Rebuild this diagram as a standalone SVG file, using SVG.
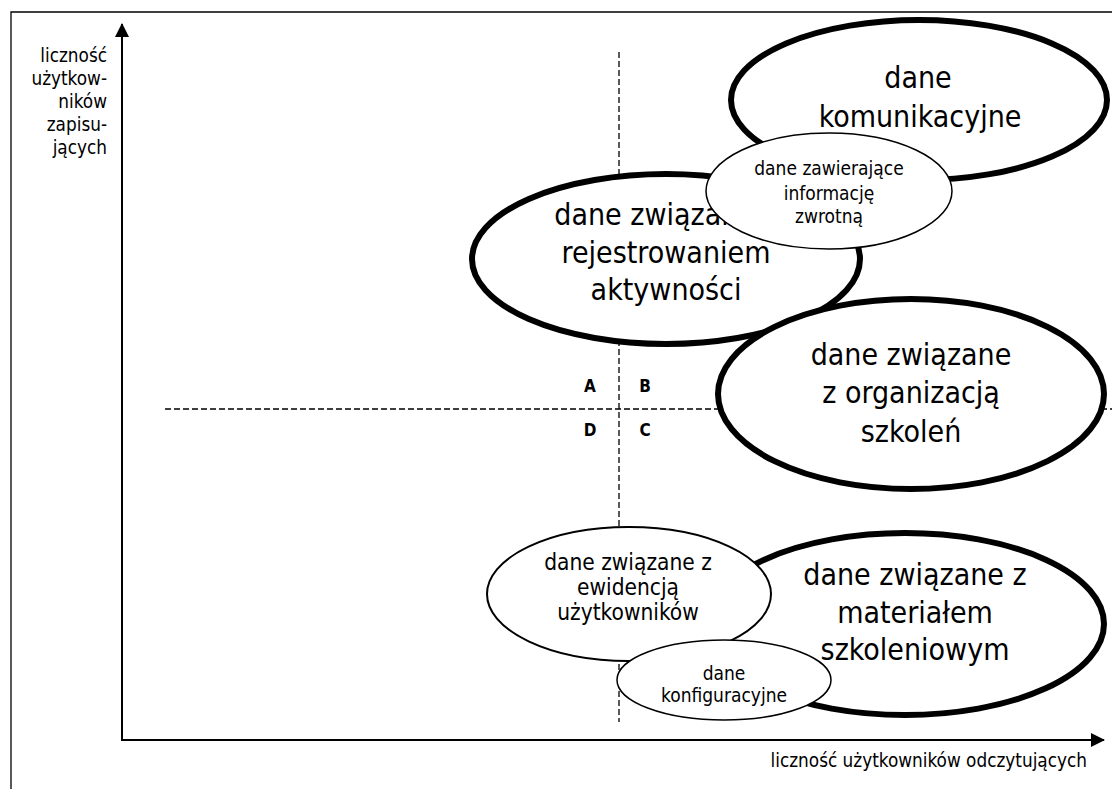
<svg xmlns="http://www.w3.org/2000/svg" width="1112" height="789" viewBox="0 0 1112 789">
<style>
text{font-family:"DejaVu Sans Condensed","DejaVu Sans",sans-serif;fill:#000;text-anchor:middle}
.big{font-size:30px}
.mid{font-size:22.5px}
.sm{font-size:19px}
.ax{font-size:18.8px;text-anchor:end}
.q{font-size:17px;font-weight:bold}
.thick{fill:#fff;stroke:#000;stroke-width:6}
.thin{fill:#fff;stroke:#000;stroke-width:1.5}
.dash{stroke:#000;stroke-width:1.3;stroke-dasharray:6 3;fill:none}
</style>
<defs>
<marker id="arr" markerWidth="14" markerHeight="14" refX="13" refY="7" orient="auto" markerUnits="userSpaceOnUse">
<path d="M0,0 L14,7 L0,14 Z" fill="#000"/>
</marker>
</defs>
<rect width="1112" height="789" fill="#fff"/>
<polyline points="11,789 11,12 1112,12" fill="none" stroke="#000" stroke-width="1.3"/>
<g id="connectors">
<line class="dash" x1="619" y1="52" x2="619" y2="722"/>
<line class="dash" x1="165" y1="409" x2="1112" y2="409"/>
<line x1="122" y1="740" x2="122" y2="24" stroke="#000" stroke-width="2" marker-end="url(#arr)"/>
<line x1="121" y1="740" x2="1104" y2="740" stroke="#000" stroke-width="2" marker-end="url(#arr)"/>
</g>
<g id="axis-labels">
<text class="ax" x="107" y="62">liczność</text>
<text class="ax" x="107" y="85">użytkow-</text>
<text class="ax" x="107" y="108">ników</text>
<text class="ax" x="107" y="131">zapisu-</text>
<text class="ax" x="107" y="154">jących</text>
<text class="ax" x="1087" y="767">liczność użytkowników odczytujących</text>
</g>
<g id="quadrants">
<text class="q" x="590" y="392">A</text>
<text class="q" x="645" y="392">B</text>
<text class="q" x="590" y="436">D</text>
<text class="q" x="645" y="436">C</text>
</g>
<g id="komunikacyjne">
<ellipse class="thick" cx="919" cy="100" rx="188" ry="80"/>
<text class="big" x="918" y="88">dane</text>
<text class="big" x="920" y="127">komunikacyjne</text>
</g>
<g id="rejestrowanie">
<ellipse class="thick" cx="666" cy="259" rx="194" ry="85"/>
<text class="big" x="666" y="225">dane związane z</text>
<text class="big" x="666" y="263">rejestrowaniem</text>
<text class="big" x="666" y="300">aktywności</text>
</g>
<g id="informacja">
<ellipse class="thin" cx="829" cy="191" rx="123" ry="58"/>
<text class="sm" x="829" y="175">dane zawierające</text>
<text class="sm" x="829" y="200">informację</text>
<text class="sm" x="829" y="223">zwrotną</text>
</g>
<g id="organizacja">
<ellipse class="thick" cx="911" cy="394" rx="193" ry="95"/>
<text class="big" x="911" y="365">dane związane</text>
<text class="big" x="911" y="403">z organizacją</text>
<text class="big" x="911" y="442">szkoleń</text>
</g>
<g id="material">
<ellipse class="thick" cx="905" cy="624" rx="199" ry="91"/>
<text class="big" x="915" y="585">dane związane z</text>
<text class="big" x="915" y="623">materiałem</text>
<text class="big" x="915" y="660">szkoleniowym</text>
</g>
<g id="ewidencja">
<ellipse cx="629" cy="594" rx="142" ry="67" fill="#fff" stroke="#000" stroke-width="2"/>
<text class="mid" x="628" y="570">dane związane z</text>
<text class="mid" x="628" y="595">ewidencją</text>
<text class="mid" x="628" y="620">użytkowników</text>
</g>
<g id="konfiguracyjne">
<ellipse class="thin" cx="724" cy="680" rx="107" ry="40"/>
<text class="sm" x="724" y="680">dane</text>
<text class="sm" x="724" y="702">konfiguracyjne</text>
</g>
</svg>
